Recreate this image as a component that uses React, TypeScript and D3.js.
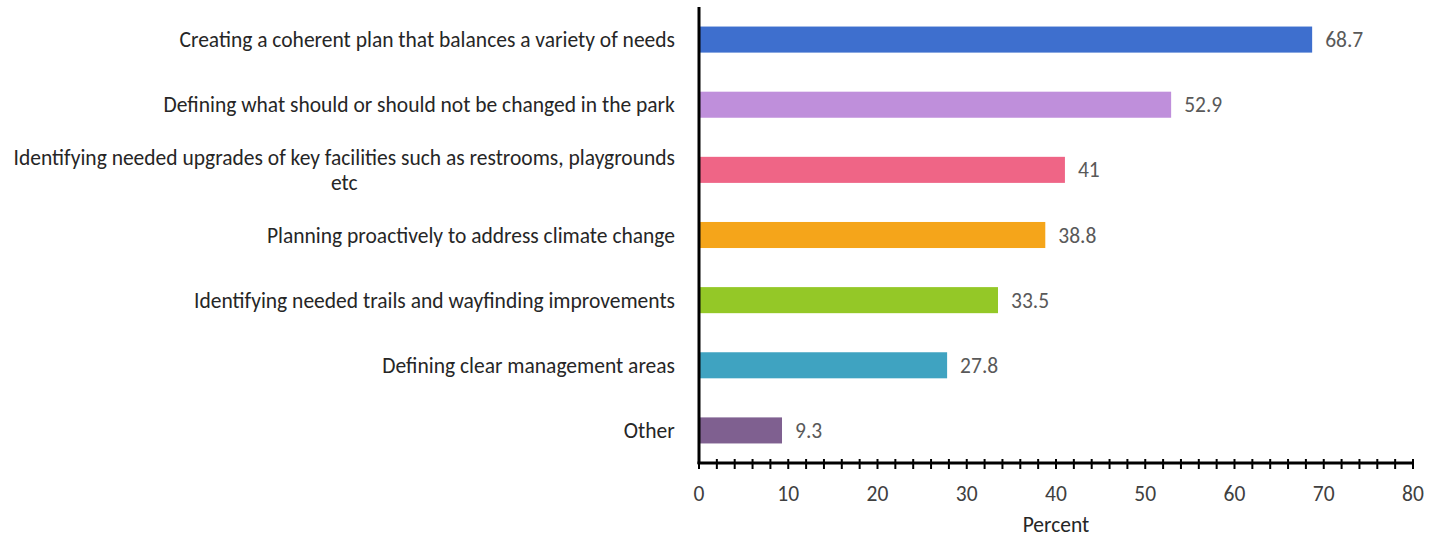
import React, { useEffect, useRef } from "react";
import * as d3 from "d3";

const categories = [
  "Creating a coherent plan that balances a variety of needs",
  "Defining what should or should not be changed in the park",
  "Identifying needed upgrades of key facilities such as restrooms, playgrounds|etc",
  "Planning proactively to address climate change",
  "Identifying needed trails and wayfinding improvements",
  "Defining clear management areas",
  "Other",
];
const values = [68.7, 52.9, 41, 38.8, 33.5, 27.8, 9.3];
const barColors = ["#3e6fce", "#bf8fdb", "#ef6586", "#f5a51a", "#94c827", "#3fa3c1", "#7f6090"];
const xTicks = [0, 10, 20, 30, 40, 50, 60, 70, 80];
const xTitle = "Percent";

const App: React.FC = () => {
  const ref = useRef<SVGSVGElement>(null);

  useEffect(() => {
    const svg = d3.select(ref.current);
    svg.selectAll("*").remove();
    const font = "Carlito, Lato, sans-serif";
    const fs = 21.5;

    const x = d3.scaleLinear().domain([0, 80]).range([699, 1413]);
    const y = d3
      .scaleBand()
      .domain(categories)
      .range([7, 463])
      .paddingInner(0.6)
      .paddingOuter(0.3);

    // bars
    svg
      .append("g")
      .selectAll("rect")
      .data(values)
      .enter()
      .append("rect")
      .attr("x", x(0))
      .attr("y", (d, i) => y(categories[i])!)
      .attr("width", (d) => x(d) - x(0))
      .attr("height", y.bandwidth())
      .attr("fill", (d, i) => barColors[i]);

    // value labels
    svg
      .append("g")
      .selectAll("text")
      .data(values)
      .enter()
      .append("text")
      .attr("x", (d) => x(d) + 13)
      .attr("y", (d, i) => y(categories[i])! + y.bandwidth() / 2)
      .attr("dy", "0.35em")
      .attr("font-family", font)
      .attr("font-size", fs)
      .attr("fill", "#595959")
      .text((d) => String(d));

    // category labels
    const labels = svg
      .append("g")
      .selectAll("text")
      .data(categories)
      .enter()
      .append("text")
      .attr("text-anchor", "middle")
      .attr("font-family", font)
      .attr("font-size", fs)
      .attr("fill", "#262626");

    labels.each(function (d) {
      const lines = d.split("|");
      const t = d3.select(this);
      lines.forEach((line, i) => {
        t.append("tspan")
          .attr("x", 0)
          .attr("y", (i - (lines.length - 1) / 2) * 25)
          .attr("dy", "0.35em")
          .text(line);
      });
      // right-align the block, centre lines within it
      const bb = (this as SVGTextElement).getBBox();
      t.attr(
        "transform",
        `translate(${675 - bb.width / 2},${y(d)! + y.bandwidth() / 2})`
      );
    });

    // x axis ticks (every 2 units)
    const minor = d3.range(0, 81, 2);
    svg
      .append("g")
      .selectAll("line")
      .data(minor)
      .enter()
      .append("line")
      .attr("x1", (d) => x(d))
      .attr("x2", (d) => x(d))
      .attr("y1", 459)
      .attr("y2", 469)
      .attr("stroke", "#000")
      .attr("stroke-width", 2);

    svg
      .append("line")
      .attr("x1", x(0) - 1.5)
      .attr("x2", x(80) + 1)
      .attr("y1", 463)
      .attr("y2", 463)
      .attr("stroke", "#000")
      .attr("stroke-width", 3);

    svg
      .append("line")
      .attr("x1", x(0))
      .attr("x2", x(0))
      .attr("y1", 7)
      .attr("y2", 464)
      .attr("stroke", "#000")
      .attr("stroke-width", 3);

    svg
      .append("g")
      .selectAll("text")
      .data(xTicks)
      .enter()
      .append("text")
      .attr("x", (d) => x(d))
      .attr("y", 493)
      .attr("dy", "0.35em")
      .attr("text-anchor", "middle")
      .attr("font-family", font)
      .attr("font-size", fs)
      .attr("fill", "#404040")
      .text((d) => String(d));

    svg
      .append("text")
      .attr("x", 1056)
      .attr("y", 524)
      .attr("dy", "0.35em")
      .attr("text-anchor", "middle")
      .attr("font-family", font)
      .attr("font-size", fs)
      .attr("fill", "#262626")
      .text(xTitle);
  }, []);

  return (
    <svg
      ref={ref}
      width={1445}
      height={540}
      style={{ position: "absolute", left: 0, top: 0, background: "#fff" }}
    />
  );
};

export default App;
